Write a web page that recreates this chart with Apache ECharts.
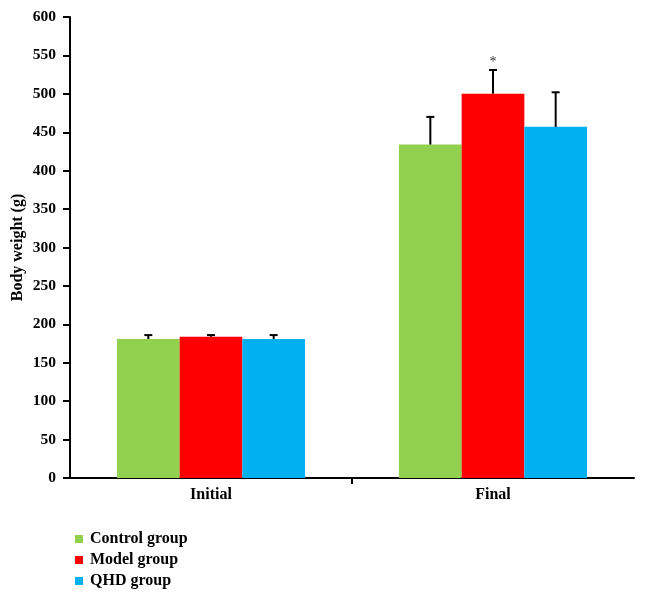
<!DOCTYPE html>
<html><head><meta charset="utf-8">
<script src="https://cdn.jsdelivr.net/npm/echarts@6/dist/echarts.min.js"></script>
<style>html,body{margin:0;padding:0;background:#fff}#c{width:645px;height:595px}</style>
</head><body><div id="c"></div>
<script>
const categories = ['Initial', 'Final'];
const seriesNames = ['Control group', 'Model group', 'QHD group'];
const controlMean = [181, 434];
const modelMean = [184, 500];
const qhdMean = [181, 457];
const controlErr = [5, 36];
const modelErr = [2, 31];
const qhdErr = [5, 45];
const modelSig = ['', '*'];
const colors = ['#92D050', '#FF0000', '#00B0F0'];

const means = [controlMean, modelMean, qhdMean];
const errs = [controlErr, modelErr, qhdErr];
const sigs = [['', ''], modelSig, ['', '']];
const FONT = '"Liberation Serif", "DejaVu Serif", serif';

const chart = echarts.init(document.getElementById('c'));
const barSeries = seriesNames.map((n, i) => ({
  name: n, type: 'bar', data: means[i], barGap: '0%', barCategoryGap: '33.3%',
  itemStyle: { color: colors[i] }, z: 2
}));
const errSeries = seriesNames.map((n, i) => ({
  type: 'custom', name: n + ' err', z: 3,
  data: categories.map((c, j) => [j, means[i][j], means[i][j] + errs[i][j]]),
  renderItem: function (params, api) {
    const band = api.size([1, 0])[0];
    const bw = band * (2 / 3) / 3;
    const off = (i - 1) * bw;
    const base = api.coord([api.value(0), api.value(1)]);
    const top = api.coord([api.value(0), api.value(2)]);
    const x = base[0] + off;
    const children = [
      { type: 'line', shape: { x1: x, y1: base[1], x2: x, y2: top[1] }, style: { stroke: '#000', lineWidth: 2 } },
      { type: 'line', shape: { x1: x - 4, y1: top[1], x2: x + 4, y2: top[1] }, style: { stroke: '#000', lineWidth: 2 } }
    ];
    const s = sigs[i][params.dataIndex];
    if (s) {
      children.push({ type: 'text', style: { text: s, x: x, y: top[1] - 1, align: 'center', verticalAlign: 'bottom', font: '14px ' + FONT, fill: '#333' } });
    }
    return { type: 'group', children: children };
  }
}));
// tick between the two categories on the x axis
const midTick = {
  type: 'custom', name: 'midtick', z: 4, silent: true,
  data: [[0, 0]],
  renderItem: function (params, api) {
    const a = api.coord([0, 0]);
    const b = api.coord([1, 0]);
    const x = (a[0] + b[0]) / 2;
    return { type: 'line', shape: { x1: x, y1: a[1], x2: x, y2: a[1] + 6 }, style: { stroke: '#000', lineWidth: 2 } };
  }
};

chart.setOption({
  animation: false,
  grid: { left: 70, right: 11, top: 17, bottom: 117, containLabel: false, outerBoundsMode: 'none' },
  legend: {
    data: seriesNames, orient: 'vertical', left: 70, top: 526, itemGap: 5,
    itemWidth: 8, itemHeight: 8, icon: 'rect',
    textStyle: { fontFamily: FONT, fontWeight: 'bold', fontSize: 16, color: '#000', padding: [0, 0, 0, 2] }
  },
  xAxis: {
    type: 'category', data: categories,
    axisLine: { lineStyle: { color: '#000', width: 2 } },
    axisTick: { show: false },
    axisLabel: { fontFamily: FONT, fontWeight: 'bold', fontSize: 16, color: '#000', margin: 9 }
  },
  yAxis: {
    type: 'value', min: 0, max: 600, interval: 50,
    name: 'Body weight (g)', nameLocation: 'middle', nameGap: 44, nameRotate: 90, nameMoveOverlap: false,
    nameTextStyle: { fontFamily: FONT, fontWeight: 'bold', fontSize: 16, color: '#000' },
    axisLine: { show: true, lineStyle: { color: '#000', width: 2 } },
    axisTick: { show: true, length: 7, lineStyle: { color: '#000', width: 2 } },
    axisLabel: { fontFamily: FONT, fontWeight: 'bold', fontSize: 15.5, color: '#000', margin: 14 },
    splitLine: { show: false }
  },
  series: barSeries.concat(errSeries, [midTick])
});
</script></body></html>
